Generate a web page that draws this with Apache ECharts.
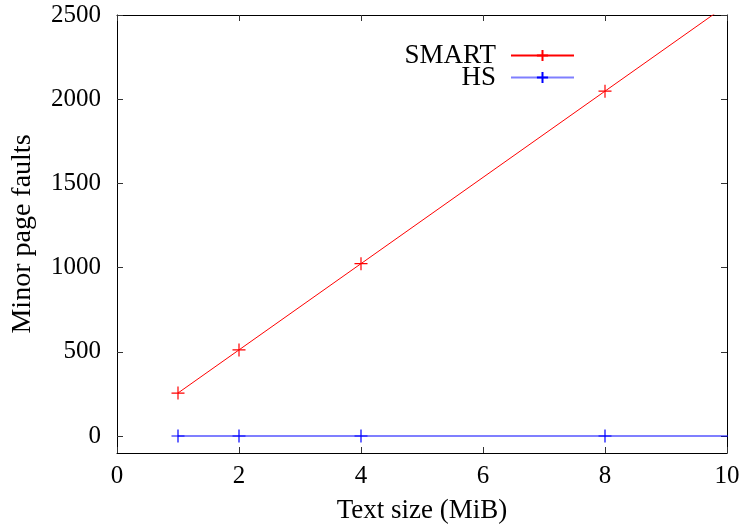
<!DOCTYPE html>
<html><head><meta charset="utf-8">
<script src="https://cdn.jsdelivr.net/npm/echarts@6/dist/echarts.min.js"></script>
<style>html,body{margin:0;padding:0;background:#fff}#c{width:739px;height:526px}</style>
</head><body><div id="c"></div>
<script>
const textSizes = [1, 2, 4, 8, 16];
const smartFaults = [256, 512, 1024, 2048, 4096];
const hsFaults = [1, 1, 1, 1, 1];
const xTicks = [0, 2, 4, 6, 8, 10];
const yTicks = [0, 500, 1000, 1500, 2000, 2500];
const seriesNames = ['SMART', 'HS'];

const FONT = '"Liberation Serif", "DejaVu Serif", serif';
const plus = 'path://M0,5L10,5M5,0L5,10';
const chart = echarts.init(document.getElementById('c'));
const pair = (xs, ys) => xs.map((x, i) => [x, ys[i]]);
const tickStyle = {show: true, inside: true, length: 6, lineStyle: {color: '#333', width: 1}};
const lineAxis = {show: true, onZero: false, lineStyle: {color: '#000', width: 1}};
chart.setOption({
  animation: false,
  grid: {left: 117, right: 12, top: 15, bottom: 73, containLabel: false, outerBoundsMode: 'none'},
  legend: {
    orient: 'vertical', right: 159, top: 37, align: 'right', itemWidth: 63, itemHeight: 14, itemGap: -5,
    textStyle: {fontFamily: FONT, fontSize: 27, color: '#000', lineHeight: 24, padding: [0, 10, 0, 0]},
    data: seriesNames
  },
  xAxis: [{
    type: 'value', min: 0, max: 10,
    name: 'Text size (MiB)', nameLocation: 'middle', nameGap: 44,
    nameTextStyle: {fontFamily: FONT, fontSize: 27, color: '#000'},
    axisLine: lineAxis,
    axisTick: Object.assign({}, tickStyle, {customValues: xTicks}),
    axisLabel: {customValues: xTicks, fontFamily: FONT, fontSize: 25, color: '#000', margin: 11},
    splitLine: {show: false}
  }, {
    type: 'value', min: 0, max: 10, position: 'top',
    axisLine: lineAxis,
    axisTick: Object.assign({}, tickStyle, {customValues: xTicks}),
    axisLabel: {show: false}, splitLine: {show: false}
  }],
  yAxis: [{
    type: 'value', min: -100, max: 2500,
    name: 'Minor page faults', nameLocation: 'middle', nameGap: 80, nameRotate: 90,
    nameTextStyle: {fontFamily: FONT, fontSize: 28, color: '#000'},
    axisLine: lineAxis,
    axisTick: Object.assign({}, tickStyle, {customValues: yTicks}),
    axisLabel: {customValues: yTicks, formatter: v => String(v), fontFamily: FONT, fontSize: 25, color: '#000', margin: 16},
    splitLine: {show: false}
  }, {
    type: 'value', min: -100, max: 2500, position: 'right',
    axisLine: lineAxis,
    axisTick: Object.assign({}, tickStyle, {customValues: yTicks}),
    axisLabel: {show: false}, splitLine: {show: false}
  }],
  series: [{
    name: seriesNames[0], type: 'line', clip: true, data: pair(textSizes, smartFaults),
    symbol: plus, symbolSize: 13,
    lineStyle: {color: '#ff0000', width: 1},
    itemStyle: {color: '#ff0000', borderColor: '#ff0000', borderWidth: 1.2}
  }, {
    name: seriesNames[1], type: 'line', clip: true, data: pair(textSizes, hsFaults),
    symbol: plus, symbolSize: 13,
    lineStyle: {color: 'rgba(0,0,255,0.5)', width: 2},
    itemStyle: {color: '#0000ff', borderColor: '#0000ff', borderWidth: 1.2}
  }]
});
</script></body></html>
